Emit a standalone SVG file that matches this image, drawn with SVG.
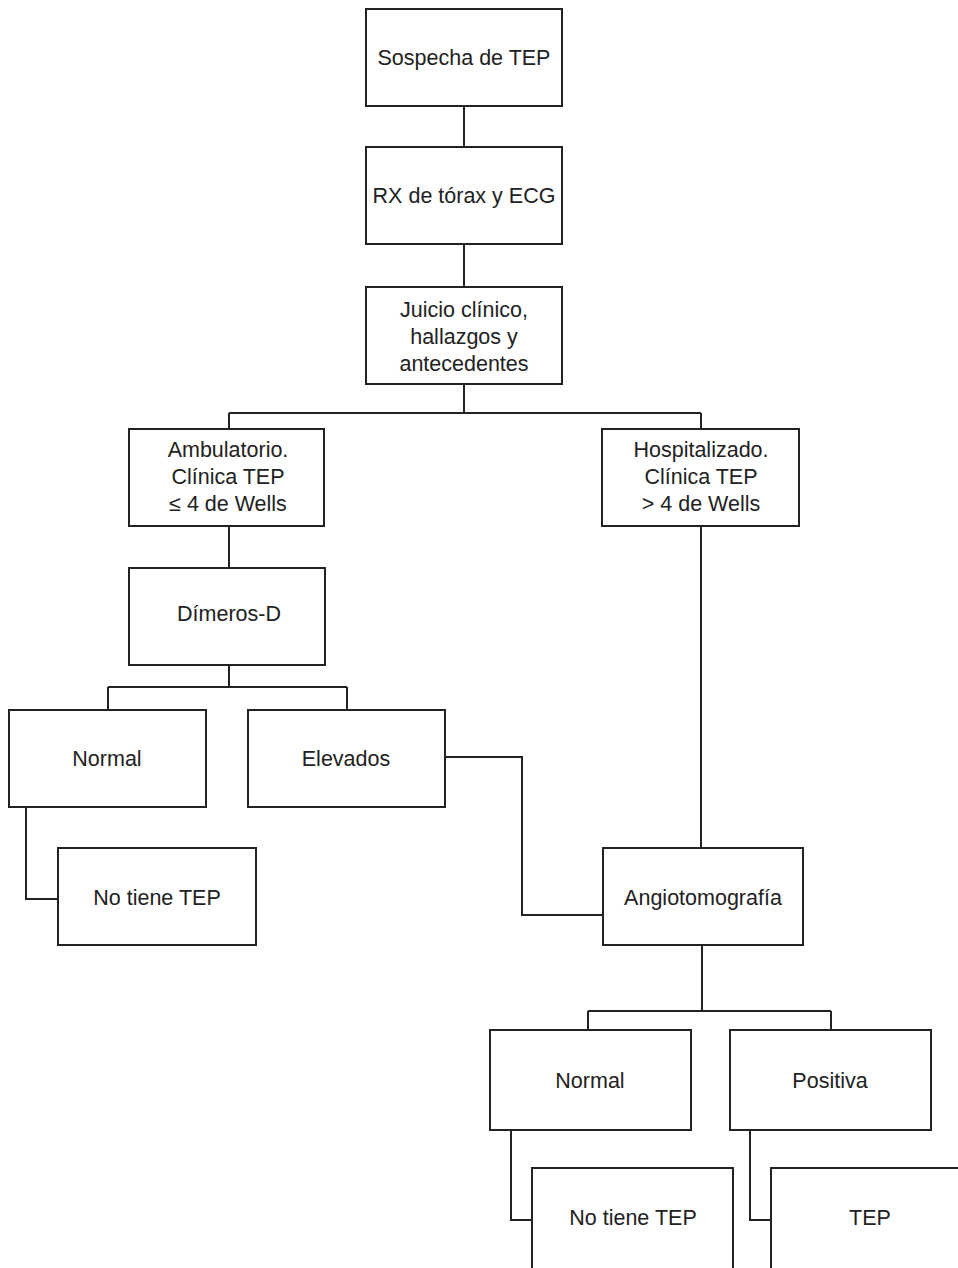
<svg xmlns="http://www.w3.org/2000/svg" width="958" height="1268" viewBox="0 0 958 1268">
<style>
.b{fill:#fff;stroke:#222;stroke-width:2}
.c{fill:none;stroke:#222;stroke-width:2}
text{font-family:"Liberation Sans",Arial,sans-serif;font-size:21.5px;fill:#222;text-anchor:middle}
</style>
<rect width="958" height="1268" fill="#fff"/>
<g id="connectors">
<path class="c" d="M464 106V147M464 244V287M464 384V413M229 413H701M229 413V429M701 413V429"/>
<path class="c" d="M229 526V568M229 665V687M108 687H347M108 687V710M347 687V710"/>
<path class="c" d="M445 757H522V915H603"/>
<path class="c" d="M26 807V899H58"/>
<path class="c" d="M701 526V848"/>
<path class="c" d="M702 945V1011M588 1011H831M588 1011V1030M831 1011V1030"/>
<path class="c" d="M511 1130V1220H532M750 1130V1220H771"/>
</g>
<g id="n1"><rect class="b" x="366" y="9" width="196" height="97"/><text x="464" y="65">Sospecha de TEP</text></g>
<g id="n2"><rect class="b" x="366" y="147" width="196" height="97"/><text x="464" y="203">RX de tórax y ECG</text></g>
<g id="n3"><rect class="b" x="366" y="287" width="196" height="97"/><text x="464" y="317">Juicio clínico,</text><text x="464" y="344">hallazgos y</text><text x="464" y="371">antecedentes</text></g>
<g id="n4"><rect class="b" x="129" y="429" width="195" height="97"/><text x="228" y="457">Ambulatorio.</text><text x="228" y="484">Clínica TEP</text><text x="228" y="511">≤ 4 de Wells</text></g>
<g id="n5"><rect class="b" x="602" y="429" width="197" height="97"/><text x="701" y="457">Hospitalizado.</text><text x="701" y="484">Clínica TEP</text><text x="701" y="511">&gt; 4 de Wells</text></g>
<g id="n6"><rect class="b" x="129" y="568" width="196" height="97"/><text x="229" y="621">Dímeros-D</text></g>
<g id="n7"><rect class="b" x="9" y="710" width="197" height="97"/><text x="107" y="766">Normal</text></g>
<g id="n8"><rect class="b" x="248" y="710" width="197" height="97"/><text x="346" y="766">Elevados</text></g>
<g id="n9"><rect class="b" x="58" y="848" width="198" height="97"/><text x="157" y="905">No tiene TEP</text></g>
<g id="n10"><rect class="b" x="603" y="848" width="200" height="97"/><text x="703" y="905">Angiotomografía</text></g>
<g id="n11"><rect class="b" x="490" y="1030" width="201" height="100"/><text x="590" y="1088">Normal</text></g>
<g id="n12"><rect class="b" x="730" y="1030" width="201" height="100"/><text x="830" y="1088">Positiva</text></g>
<g id="n13"><rect class="b" x="532" y="1168" width="201" height="110"/><text x="633" y="1225">No tiene TEP</text></g>
<g id="n14"><rect class="b" x="771" y="1168" width="201" height="110"/><text x="870" y="1225">TEP</text></g>
</svg>
